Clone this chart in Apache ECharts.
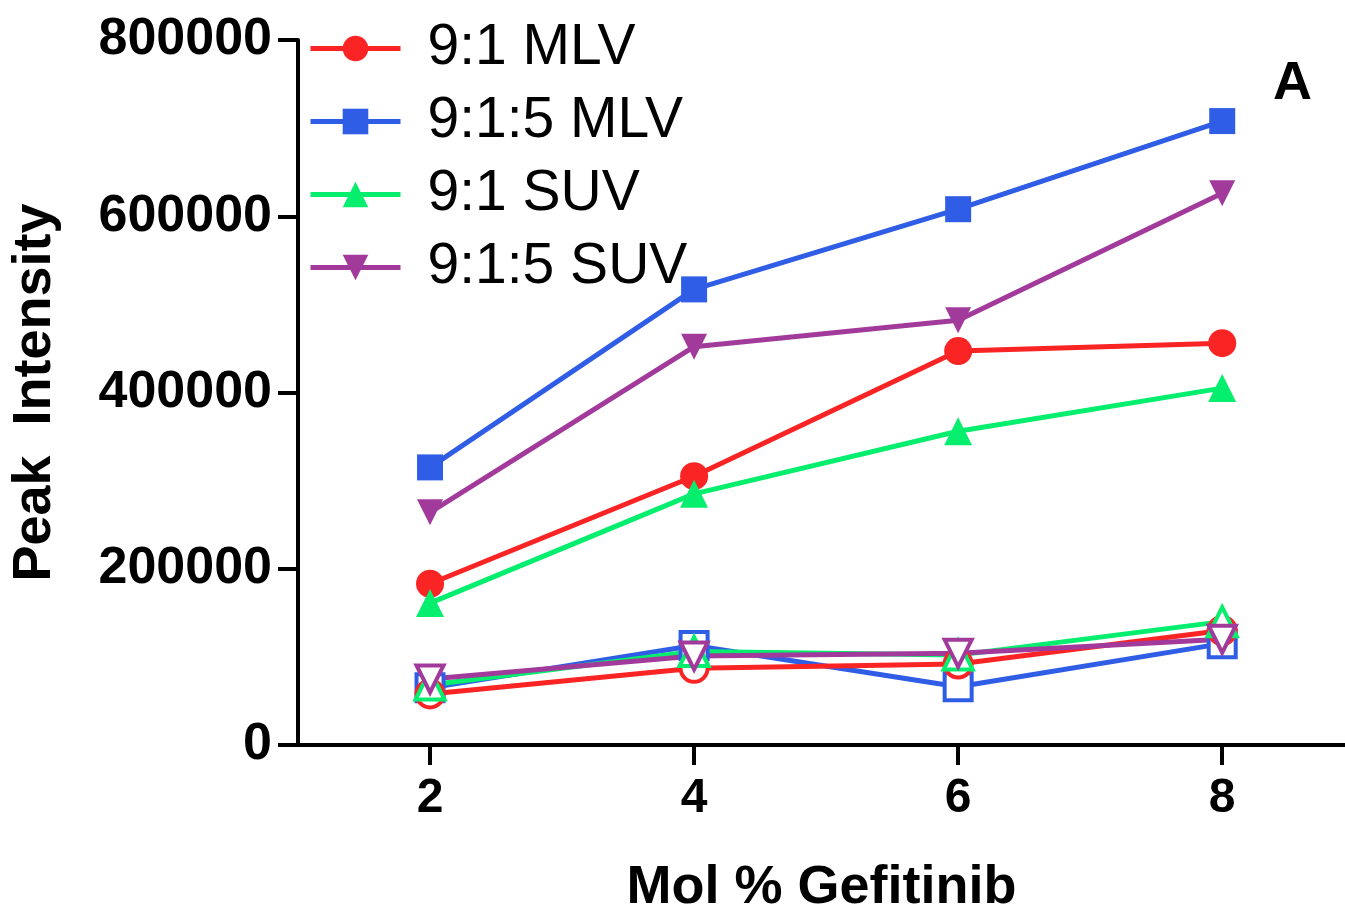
<!DOCTYPE html>
<html><head><meta charset="utf-8">
<script src="https://cdn.jsdelivr.net/npm/echarts@6/dist/echarts.min.js"></script>
<style>html,body{margin:0;padding:0;background:#fff;overflow:hidden}#c{width:1345px;height:914px}</style>
</head><body><div id="c"></div>
<script>
const xValues = [2, 4, 6, 8];
const seriesNames = ['9:1 MLV', '9:1:5 MLV', '9:1 SUV', '9:1:5 SUV'];
const mlv91 = [183000, 305000, 447000, 456000];
const mlv915 = [315000, 517000, 608000, 708000];
const suv91 = [161000, 285000, 356000, 405000];
const suv915 = [264000, 452000, 482000, 626000];
const mlv91Low = [58000, 87000, 92000, 130000];
const mlv915Low = [65000, 113000, 66000, 115000];
const suv91Low = [68000, 106000, 102000, 140000];
const suv915Low = [75000, 101000, 104000, 120000];

const colors = {red:'#fa2424', blue:'#2f5de6', green:'#05ee6e', purple:'#a23a9c'};
const pairs = a => xValues.map((x, i) => [x, a[i]]);
const font = 'Liberation Sans, Arial, sans-serif';
const downTri = 'path://M0,0L10,0L5,9Z';

function filled(name, data, color, symbol, size) {
  return {name, type:'line', data:pairs(data), symbol, symbolSize:size,
    lineStyle:{color, width:5}, itemStyle:{color, borderWidth:0}, z:3};
}
function open(name, data, color, symbol, size) {
  return {name, type:'line', data:pairs(data), symbol, symbolSize:size,
    lineStyle:{color, width:5}, itemStyle:{color:'#fff', borderColor:color, borderWidth:4}, z:2};
}

const chart = echarts.init(document.getElementById('c'));
chart.setOption({
  animation:false,
  backgroundColor:'#fff',
  title:{text:'A', left:1268, top:52, textStyle:{fontFamily:font, fontWeight:'bold', fontSize:54, color:'#000'}},
  legend:{data:seriesNames, orient:'vertical', left:303, top:15, itemWidth:90, itemHeight:32, itemGap:16,
    lineStyle:{width:5},
    textStyle:{fontFamily:font, fontSize:57, color:'#000', lineHeight:56, padding:[0,0,0,22]}},
  grid:{left:298, right:0, top:40, bottom:169, containLabel:false, outerBoundsMode:'none'},
  xAxis:{type:'value', min:1, max:8.93, interval:1,
    axisLine:{show:true, lineStyle:{color:'#000', width:4}},
    axisTick:{show:true, length:20, lineStyle:{color:'#000', width:4}, customValues:xValues},
    axisLabel:{customValues:xValues, margin:30, fontFamily:font, fontWeight:'bold', fontSize:48, color:'#000'},
    splitLine:{show:false},
    name:'Mol % Gefitinib', nameLocation:'middle', nameGap:116,
    nameTextStyle:{fontFamily:font, fontWeight:'bold', fontSize:54, color:'#000'}},
  yAxis:{type:'value', min:0, max:800000, interval:200000,
    axisLine:{show:true, lineStyle:{color:'#000', width:4}},
    axisTick:{show:true, length:20, lineStyle:{color:'#000', width:4}},
    axisLabel:{margin:26, fontFamily:font, fontWeight:'bold', fontSize:52, color:'#000',
      formatter:v => String(v)},
    splitLine:{show:false},
    name:'Peak  Intensity', nameLocation:'middle', nameGap:236,
    nameTextStyle:{fontFamily:font, fontWeight:'bold', fontSize:54, color:'#000'}},
  series:[
    open('9:1:5 MLV low', mlv915Low, colors.blue, 'rect', 27),
    open('9:1 MLV low', mlv91Low, colors.red, 'circle', 27),
    open('9:1 SUV low', suv91Low, colors.green, 'triangle', 29),
    open('9:1:5 SUV low', suv915Low, colors.purple, downTri, 27),
    filled(seriesNames[0], mlv91, colors.red, 'circle', 28),
    filled(seriesNames[1], mlv915, colors.blue, 'rect', 26),
    filled(seriesNames[2], suv91, colors.green, 'triangle', 28),
    filled(seriesNames[3], suv915, colors.purple, downTri, 26)
  ]
});
</script></body></html>
